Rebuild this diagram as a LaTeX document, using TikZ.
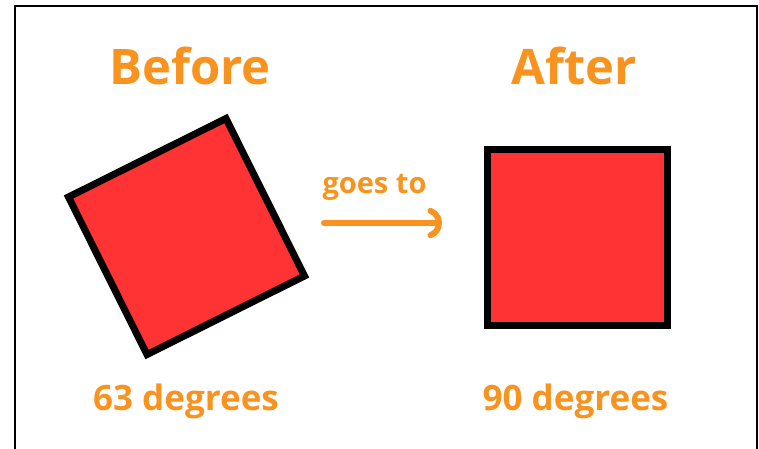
\documentclass[tikz,border=0pt]{standalone}
\usepackage{fontspec}
\setmainfont{Open Sans}
\usetikzlibrary{arrows.meta}
\definecolor{lblorange}{RGB}{247,147,30}
\definecolor{sqred}{RGB}{255,51,51}
\tikzset{
  title/.style={anchor=base, inner sep=0pt, text=lblorange, font=\fontsize{49}{49}\selectfont\bfseries},
  caption/.style={anchor=base, inner sep=0pt, text=lblorange, font=\fontsize{35}{35}\selectfont\bfseries},
  small/.style={anchor=base, inner sep=0pt, text=lblorange, font=\fontsize{29}{29}\selectfont\bfseries},
  square/.style={draw=black, fill=sqred, line width=7pt, inner sep=0pt},
  frame/.style={draw=black, line width=1.8pt},
  goarrow/.style={draw=lblorange, line width=6pt, line cap=round, -{Arc Barb[length=16pt, width=32pt, arc=140, round]}}
}
\begin{document}
\begin{tikzpicture}[x=1pt, y=-1pt]
\useasboundingbox (0,0) rectangle (759,448);
\draw[frame] (15,450) -- (15,6) -- (757,6) -- (757,450);
\node[title] (before) at (190,84) {Before};
\node[title] (after) at (574.5,84) {After};
\node[square, minimum size=176pt, rotate=26.5] (sq1) at (186.5,236.5) {};
\node[square, minimum width=180pt, minimum height=176pt] (sq2) at (577.5,237.5) {};
\node[small] (goes) at (374.5,193) {goes to};
\coordinate (a1) at (324,223);
\coordinate (a2) at (442,223);
\draw[goarrow] (a1) -- (a2);
\node[caption] (deg1) at (186,410) {63 degrees};
\node[caption] (deg2) at (575.5,410) {90 degrees};
\end{tikzpicture}
\end{document}
